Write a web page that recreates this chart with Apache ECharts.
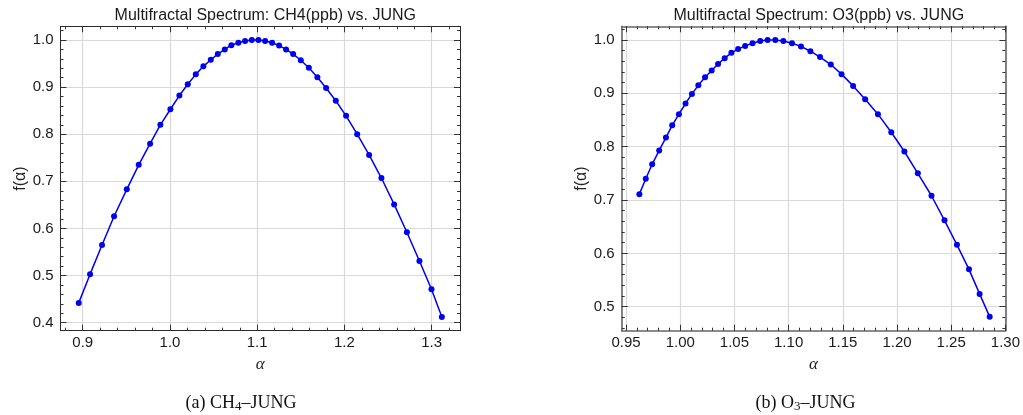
<!DOCTYPE html>
<html>
<head>
<meta charset="utf-8">
<script src="https://cdn.jsdelivr.net/npm/echarts@6/dist/echarts.min.js"></script>
<style>
html,body{margin:0;padding:0;background:#fff;}
#chart{width:1023px;height:415px;}
</style>
</head>
<body>
<div id="chart"></div>
<script>
// ---- data ----
var alphaCH4 = [0.8954,0.9084,0.9221,0.9359,0.9505,0.9642,0.9772,0.9890,1.0005,1.0108,1.0204,1.0296,1.0383,1.0468,1.0548,1.0628,1.0704,1.0784,1.0861,1.0938,1.1014,1.1091,1.1171,1.1251,1.1331,1.1412,1.1500,1.1592,1.1690,1.1790,1.1901,1.2019,1.2146,1.2283,1.2424,1.2570,1.2716,1.2860,1.2998,1.3117];
var fCH4 = [0.442,0.503,0.565,0.626,0.683,0.735,0.780,0.820,0.853,0.882,0.906,0.927,0.944,0.958,0.970,0.980,0.989,0.994,0.998,1.000,1.000,0.998,0.994,0.988,0.980,0.970,0.957,0.941,0.921,0.898,0.871,0.839,0.800,0.756,0.707,0.651,0.592,0.531,0.471,0.412];

var alphaO3 = [0.9623,0.9682,0.9741,0.9806,0.9868,0.9926,0.9988,1.0049,1.0108,1.0167,1.0229,1.0290,1.0349,1.0410,1.0472,1.0534,1.0599,1.0667,1.0738,1.0806,1.0877,1.0951,1.1031,1.1114,1.1201,1.1290,1.1389,1.1488,1.1595,1.1706,1.1824,1.1947,1.2068,1.2192,1.2318,1.2438,1.2553,1.2664,1.2762,1.2855];
var fO3 = [0.711,0.740,0.767,0.793,0.817,0.840,0.861,0.881,0.899,0.915,0.930,0.943,0.955,0.966,0.976,0.983,0.989,0.994,0.998,1.000,1.000,0.998,0.994,0.988,0.979,0.968,0.954,0.936,0.914,0.889,0.861,0.827,0.791,0.750,0.708,0.662,0.616,0.570,0.524,0.481];

var xTicksCH4 = [0.9,1.0,1.1,1.2,1.3];
var yTicksCH4 = [0.4,0.5,0.6,0.7,0.8,0.9,1.0];
var xTicksO3 = [0.95,1.00,1.05,1.10,1.15,1.20,1.25,1.30];
var yTicksO3 = [0.5,0.6,0.7,0.8,0.9,1.0];

var titleCH4 = 'Multifractal Spectrum: CH4(ppb) vs. JUNG';
var titleO3 = 'Multifractal Spectrum: O3(ppb) vs. JUNG';
var captionCH4 = '(a) CH{sub|4}–JUNG';
var captionO3 = '(b) O{sub|3}–JUNG';

// ---- helpers ----
function minorTicks(min, max, step) {
  var out = [];
  var start = Math.ceil(min / step - 1e-9);
  for (var k = start; k * step <= max + 1e-9; k++) out.push(+(k * step).toFixed(4));
  return out;
}
function pairs(xs, ys) { return xs.map(function (x, i) { return [x, ys[i]]; }); }

var SANS = '"Liberation Sans", Arial, sans-serif';
var SERIF = '"Liberation Serif", "Times New Roman", serif';

var panels = [
  {grid: {left: 60.5, top: 26.3, width: 399.5, height: 304.4},
   xr: [0.8745, 1.3325], yr: [0.383, 1.029],
   xt: xTicksCH4, yt: yTicksCH4, xMinor: 0.02, yMinor: 0.02, xDec: 1, yDec: 1,
   frame: {color: '#2a2a2a', width: 1}},
  {grid: {left: 621.7, top: 26.3, width: 384.3, height: 304.4},
   xr: [0.946, 1.30], yr: [0.455, 1.0257],
   xt: xTicksO3, yt: yTicksO3, xMinor: 0.01, yMinor: 0.02, xDec: 2, yDec: 1,
   frame: {color: '#666666', width: 1.6}}
];

var grids = [], xAxes = [], yAxes = [];
var labelStyle = {fontFamily: SANS, fontSize: 15, color: '#1a1a1a'};

panels.forEach(function (p, g) {
  grids.push(Object.assign({containLabel: false}, p.grid));
  var xm = minorTicks(p.xr[0], p.xr[1], p.xMinor);
  var ym = minorTicks(p.yr[0], p.yr[1], p.yMinor);
  var lineS = {color: p.frame.color, width: p.frame.width};
  var tickS = {color: '#333', width: 1};
  ['bottom', 'top'].forEach(function (pos) {
    var main = pos === 'bottom';
    xAxes.push({
      gridIndex: g, type: 'value', position: pos, min: p.xr[0], max: p.xr[1],
      axisLine: {show: true, onZero: false, lineStyle: lineS},
      axisTick: {show: true, inside: true, length: 6, customValues: p.xt, lineStyle: tickS},
      axisLabel: main ? Object.assign({show: true, customValues: p.xt, margin: 5,
        formatter: (function (d) { return function (v) { return v.toFixed(d); }; })(p.xDec)}, labelStyle) : {show: false},
      splitLine: {show: main, lineStyle: {color: '#d9d9d9', width: 1.2}},
      name: main ? 'α' : '', nameLocation: 'middle', nameGap: 22,
      nameTextStyle: {fontFamily: SERIF, fontStyle: 'italic', fontSize: 17, color: '#222'}
    });
    xAxes.push({
      gridIndex: g, type: 'value', position: pos, min: p.xr[0], max: p.xr[1],
      axisLine: {show: false, onZero: false},
      axisTick: {show: true, inside: true, length: 3, customValues: xm, lineStyle: tickS},
      axisLabel: {show: false}, splitLine: {show: false}
    });
  });
  ['left', 'right'].forEach(function (pos) {
    var main = pos === 'left';
    yAxes.push({
      gridIndex: g, type: 'value', position: pos, min: p.yr[0], max: p.yr[1],
      axisLine: {show: true, onZero: false, lineStyle: lineS},
      axisTick: {show: true, inside: true, length: 6, customValues: p.yt, lineStyle: tickS},
      axisLabel: main ? Object.assign({show: true, customValues: p.yt, margin: 7,
        formatter: (function (d) { return function (v) { return v.toFixed(d); }; })(p.yDec)}, labelStyle) : {show: false},
      splitLine: {show: main, lineStyle: {color: '#d9d9d9', width: 1.2}},
      name: main ? 'f(α)' : '', nameLocation: 'middle', nameGap: 30, nameRotate: 90,
      nameTextStyle: {fontFamily: SANS, fontSize: 16, color: '#222'}
    });
    yAxes.push({
      gridIndex: g, type: 'value', position: pos, min: p.yr[0], max: p.yr[1],
      axisLine: {show: false, onZero: false},
      axisTick: {show: true, inside: true, length: 3, customValues: ym, lineStyle: tickS},
      axisLabel: {show: false}, splitLine: {show: false}
    });
  });
});

function lineSeries(xs, ys, idx) {
  return {
    type: 'line', xAxisIndex: idx, yAxisIndex: idx, data: pairs(xs, ys),
    symbol: 'circle', symbolSize: 6, showSymbol: true, animation: false,
    lineStyle: {color: '#0000f0', width: 1.5},
    itemStyle: {color: '#0000f0'}, z: 5
  };
}

var capRich = {sub: {fontFamily: SERIF, fontSize: 13, lineHeight: 12, verticalAlign: 'bottom', color: '#111'}};

var option = {
  backgroundColor: '#ffffff',
  animation: false,
  title: [
    {text: titleCH4, left: 260.3, top: 3, textAlign: 'center',
     textStyle: {fontFamily: SANS, fontSize: 16, fontWeight: 'normal', color: '#1a1a1a'}},
    {text: titleO3, left: 813.8, top: 3, textAlign: 'center',
     textStyle: {fontFamily: SANS, fontSize: 16, fontWeight: 'normal', color: '#1a1a1a'}},
    {text: captionCH4, left: 236, top: 388, textAlign: 'center',
     textStyle: {fontFamily: SERIF, fontSize: 18, fontWeight: 'normal', color: '#111', lineHeight: 20, rich: capRich}},
    {text: captionO3, left: 800.5, top: 388, textAlign: 'center',
     textStyle: {fontFamily: SERIF, fontSize: 18, fontWeight: 'normal', color: '#111', lineHeight: 20, rich: capRich}}
  ],
  grid: grids,
  xAxis: xAxes,
  yAxis: yAxes,
  series: [lineSeries(alphaCH4, fCH4, 0), lineSeries(alphaO3, fO3, 4)]
};

var chart = echarts.init(document.getElementById('chart'), null, {renderer: 'canvas'});
chart.setOption(option);
</script>
</body>
</html>
